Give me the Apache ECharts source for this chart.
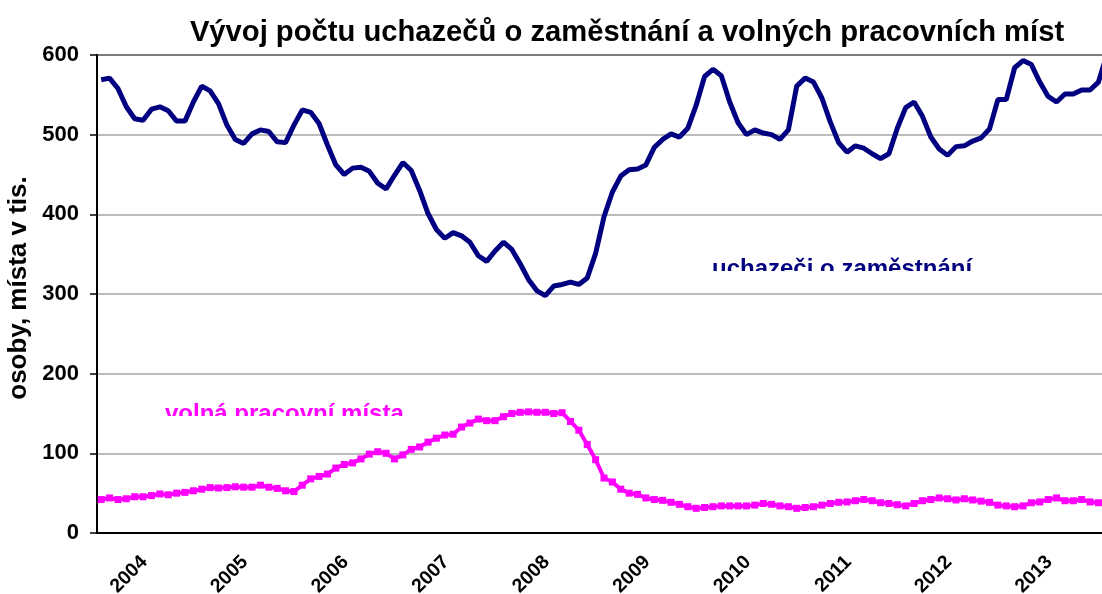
<!DOCTYPE html>
<html>
<head>
<meta charset="utf-8">
<script src="https://cdn.jsdelivr.net/npm/echarts/dist/echarts.min.js"></script>
<style>
  html, body { margin: 0; padding: 0; background: #fff; }
  #chart { width: 1102px; height: 594px; }
</style>
</head>
<body>
<div id="chart"></div>
<script>
// roky na ose x (měsíční data od ledna 2004)
const years = ['2004', '2005', '2006', '2007', '2008', '2009', '2010', '2011', '2012', '2013', '2014'];

// uchazeči o zaměstnání (tis.)
const uchazeci = [
  569, 571, 558, 535, 520, 518, 532, 535, 530, 517, 517, 541,
  561, 555, 539, 512, 494, 489, 501, 506, 504, 491, 490, 512,
  531, 528, 514, 487, 462, 450, 458, 459, 454, 439, 432, 449,
  465, 455, 430, 401, 381, 370, 377, 373, 365, 348, 341, 354,
  365, 356, 338, 318, 304, 298, 310, 312, 315, 312, 320, 351,
  397, 428, 448, 456, 457, 462, 484, 494, 501, 497, 508, 537,
  573, 582, 574, 541, 515, 500, 506, 502, 500, 494, 506, 561,
  571, 566, 546, 516, 490, 478, 486, 483, 476, 470, 476, 508,
  534, 541, 523, 497, 482, 474, 485, 486, 492, 496, 507, 544,
  544, 584, 593, 588, 566, 548, 541, 551, 551, 556, 556, 566,
  600
];

// volná pracovní místa (tis.)
const volnaMista = [
  42, 44, 42, 43, 45.5, 45.5, 47, 49, 48, 50, 51, 53,
  55, 57, 56.5, 57, 58, 57.5, 57.5, 60, 57.5, 56, 53, 52,
  60, 68, 71, 74, 81.5, 86, 88, 93, 99, 102, 100, 93,
  98, 105, 108, 114, 119, 123, 124, 133, 138, 143, 141, 141,
  146, 150, 151.5, 152, 151.5, 151.5, 150, 151, 140, 129, 111, 92,
  69, 64, 55, 50, 48.5, 44, 42, 41, 38.5, 36, 33, 31,
  32, 33, 34, 34, 34, 34, 35, 37, 36, 34, 33, 31,
  32, 33, 35, 37, 38.5, 39, 40.5, 42, 40.5, 38, 37, 35.5,
  34, 37, 40.5, 42, 44, 43, 41.5, 43, 41.5, 40, 38.5, 35,
  34, 33, 34, 38, 39, 42, 44, 40.5, 40.5, 42, 39, 38,
  37
];

const months = [];
for (let i = 0; i < uchazeci.length; i++) {
  const y = years[Math.floor(i / 12)];
  const m = String(i % 12 + 1).padStart(2, '0');
  months.push(y + '-' + m);
}

const font = '"Liberation Sans", Arial, sans-serif';
const chart = echarts.init(document.getElementById('chart'));

const option = {
  animation: false,
  backgroundColor: '#fff',
  textStyle: { fontFamily: font },
  title: {
    text: 'Vývoj počtu uchazečů o zaměstnání a volných pracovních míst',
    left: 622,
    top: 13,
    textAlign: 'center',
    textStyle: { fontSize: 29.2, fontWeight: 'bold', color: '#000', fontFamily: font }
  },
  grid: {
    left: 97,
    top: 55,
    width: 1014,
    height: 478,
    show: true,
    borderColor: '#000',
    borderWidth: 2,
    containLabel: false,
    outerBoundsMode: 'none'
  },
  xAxis: {
    type: 'category',
    data: months,
    boundaryGap: true,
    axisLine: { lineStyle: { color: '#000', width: 2 } },
    axisTick: { show: false },
    axisLabel: {
      interval: (idx) => idx % 12 === 6,
      formatter: (v) => v.slice(0, 4),
      rotate: 45,
      margin: 19,
      padding: [0, 10, 0, 0],
      fontSize: 19.5,
      fontWeight: 'bold',
      color: '#000',
      fontFamily: font
    },
    splitLine: { show: false }
  },
  yAxis: {
    type: 'value',
    min: 0,
    max: 600,
    interval: 100,
    name: 'osoby, místa v tis.',
    nameLocation: 'middle',
    nameRotate: 90,
    nameGap: 65,
    nameTextStyle: { fontSize: 26, fontWeight: 'bold', color: '#000', fontFamily: font, padding: [0, 0, 0, 12] },
    axisLine: { show: true, lineStyle: { color: '#000', width: 2 } },
    axisTick: { show: true, length: 7, lineStyle: { color: '#000', width: 1.5 } },
    axisLabel: { margin: 18, fontSize: 22, fontWeight: 'bold', color: '#000', fontFamily: font },
    splitLine: { lineStyle: { color: '#a6a6a6', width: 1.5 } }
  },
  series: [
    {
      name: 'uchazeči o zaměstnání',
      type: 'line',
      data: uchazeci,
      showSymbol: false,
      lineStyle: { color: '#000080', width: 5 },
      itemStyle: { color: '#000080' },
      z: 3
    },
    {
      name: 'volná pracovní místa',
      type: 'line',
      data: volnaMista,
      symbol: 'rect',
      symbolSize: 7,
      showAllSymbol: true,
      lineStyle: { color: '#FF00FF', width: 4 },
      itemStyle: { color: '#FF00FF' },
      z: 4
    }
  ],
  graphic: [
    {
      type: 'text',
      left: 712,
      top: 257,
      z: 10,
      style: { text: 'uchazeči o zaměstnání', fill: '#000080', font: 'bold 24px ' + font }
    },
    {
      type: 'rect',
      shape: { x: 700, y: 271, width: 290, height: 14 },
      z: 11,
      style: { fill: '#fff' }
    },
    {
      type: 'text',
      left: 165,
      top: 402,
      z: 10,
      style: { text: 'volná pracovní místa', fill: '#FF00FF', font: 'bold 24px ' + font }
    },
    {
      type: 'rect',
      shape: { x: 155, y: 416, width: 265, height: 14 },
      z: 11,
      style: { fill: '#fff' }
    }
  ]
};

chart.setOption(option);
</script>
</body>
</html>
